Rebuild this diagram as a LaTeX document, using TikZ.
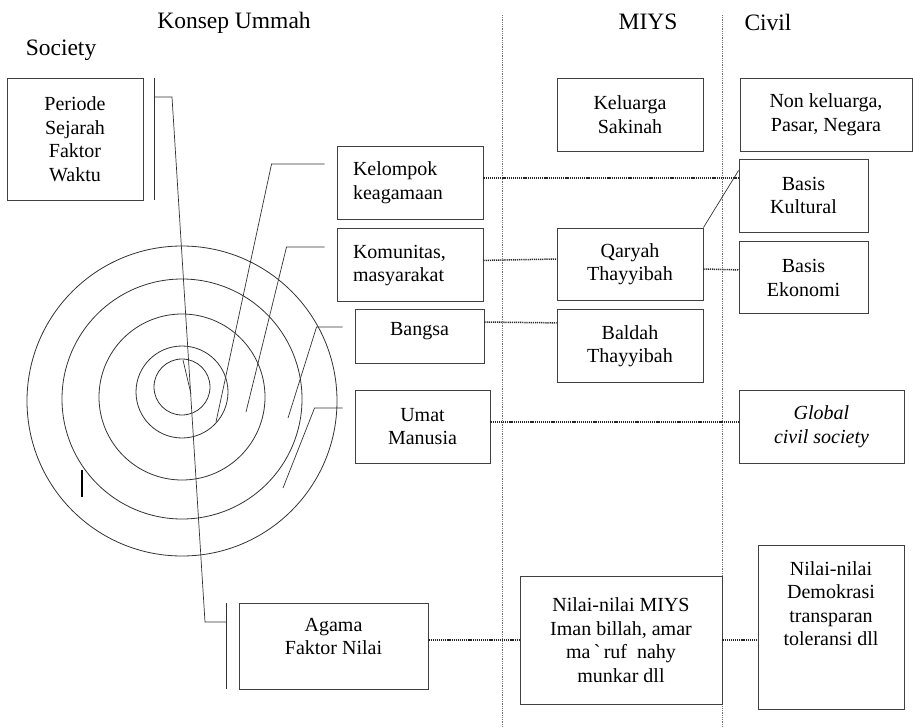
\documentclass[tikz,border=0pt]{standalone}
\usepackage{fontspec}
\setmainfont{Liberation Serif}
\usetikzlibrary{positioning}

\begin{document}
\begin{tikzpicture}[
    x=1pt, y=-1pt,
    every node/.style={font=\fontsize{20}{23.5}\selectfont},
    box/.style={rectangle, draw=black!75, line width=0.9pt, inner sep=0pt, align=center},
    leftbox/.style={box, align=left, text width=114pt},
    title/.style={font=\fontsize{23.5}{28}\selectfont},
    ring/.style={circle, draw=black!80, line width=0.8pt, inner sep=0pt},
    pointer/.style={draw=black!80, line width=0.7pt},
    link/.style={dash pattern=on 1.2pt off 0.9pt, line width=1.5pt, draw=black!85},
    divider/.style={densely dotted, draw=black!55, line width=0.8pt}
]
\useasboundingbox (0,0) rectangle (913,728);

% Column titles
\node[title] (konsep) at (234,23) {Konsep Ummah};
\node[title] (society) at (61,50) {Society};
\node[title] (miys) at (648,22) {MIYS};
\node[title] (civil) at (768,22) {Civil};

% Column dividers
\draw[divider] (502,15) -- (502,728);
\draw[divider] (722,15) -- (722,728);

% Concentric rings
\foreach \cy/\d [count=\i] in {387/56pt, 392/92pt, 397/166pt, 399/240pt, 401/310pt}
    \node[ring, minimum size=\d] (ring\i) at (182,\cy) {};

% Society column
\node[box, minimum width=136pt, minimum height=122pt] (periode) at (75,139) {Periode\\Sejarah\\Faktor\\Waktu};
\node[box, minimum width=189pt, minimum height=86pt] (agama) at (333.5,646) {Agama\\Faktor Nilai\\[-4pt]\mbox{}};

% Konsep Ummah column
\node[leftbox, minimum width=146pt, minimum height=73pt] (kelompok) at (410,182.5) {Kelompok\\keagamaan};
\node[leftbox, minimum width=146pt, minimum height=73pt, below=9pt of kelompok] (komunitas) {Komunitas,\\masyarakat};
\node[box, minimum width=129pt, minimum height=54pt] (bangsa) at (419.5,336) {Bangsa\\[-9pt]\mbox{}};
\node[box, minimum width=135pt, minimum height=73pt] (umat) at (422.5,426.5) {Umat\\Manusia};

% MIYS column
\node[box, minimum width=146pt, minimum height=73pt] (keluarga) at (630,114.5) {Keluarga\\Sakinah};
\node[box, minimum width=146pt, minimum height=72pt] (qaryah) at (630,264) {Qaryah\\Thayyibah};
\node[box, minimum width=146pt, minimum height=73pt, below=9pt of qaryah] (baldah) {Baldah\\Thayyibah};
\node[box, minimum width=202pt, minimum height=128pt] (nilaimiys) at (621,640) {Nilai-nilai MIYS\\Iman billah, amar\\ma\,\textasciigrave\,ruf\enspace nahy\\munkar dll};

% Civil column
\node[box, minimum width=172pt, minimum height=73pt] (nonkel) at (826,114.5) {Non keluarga,\\Pasar, Negara};
\node[box, minimum width=129pt, minimum height=73pt] (kultural) at (803.5,195.5) {Basis\\Kultural};
\node[box, minimum width=129pt, minimum height=72pt, below=9pt of kultural] (ekonomi) {Basis\\Ekonomi};
\node[box, minimum width=165pt, minimum height=73pt, font=\fontsize{20}{23.5}\selectfont\itshape] (global) at (821.5,426.5) {Global\\civil society};
\node[box, minimum width=146pt, minimum height=164pt] (demokrasi) at (831,627) {Nilai-nilai\\Demokrasi\\transparan\\toleransi dll\\\mbox{}\\\mbox{}};

% Dotted links between columns
\coordinate (k1) at ([yshift=4.5pt]kelompok.east);
\draw[link] (k1) -- (k1 -| kultural.west);
\draw[link] ([yshift=5pt]komunitas.east) -- ([yshift=5pt]qaryah.west);
\draw[link] ([yshift=-5pt]qaryah.east) -- ([yshift=8pt]ekonomi.west);
\draw[link] ([yshift=14pt]bangsa.east) -- ([yshift=23.5pt]baldah.west);
\draw[link] ([yshift=4.5pt]umat.east) -- ([yshift=4.5pt]global.west);
\draw[link] ([yshift=6pt]agama.east) -- (nilaimiys.west);
\draw[link] (nilaimiys.east) -- ([yshift=-13pt]demokrasi.west);
\draw[pointer] (qaryah.north east) -- ([yshift=25pt]kultural.west);

% Time and value brackets
\coordinate (pbrk) at ([xshift=11pt]periode.east);
\coordinate (abrk) at ([xshift=-12pt]agama.west);
\draw[pointer] (pbrk |- periode.north) -- (pbrk |- periode.south);
\draw[pointer] (abrk |- agama.north) -- (abrk |- agama.south);
\coordinate (pbend) at (172,97);
\coordinate (abend) at (205,622);
\draw[pointer] (pbend -| pbrk) -- (pbend) -- (abend) -- (abend -| abrk);
\draw[pointer] (183,360) -- (191,394);

% Pointers from boxes into the rings
\coordinate (tip1) at (216,422);
\coordinate (tip2) at (246,412);
\coordinate (tip3) at (288,418);
\coordinate (tip4) at (283,488);
\draw[pointer] ([xshift=-12pt,yshift=18.5pt]kelompok.west) -- ++(-53,0) -- (tip1);
\draw[pointer] ([xshift=-12pt,yshift=18.5pt]komunitas.west) -- ++(-38,0) -- (tip2);
\draw[pointer] ([xshift=-12pt,yshift=9pt]bangsa.west) -- ++(-26,0) -- (tip3);
\draw[pointer] ([xshift=-12pt,yshift=18.5pt]umat.west) -- ++(-28,0) -- (tip4);
\draw[line width=1.6pt] (82,470) -- (82,497);

\end{tikzpicture}
\end{document}
